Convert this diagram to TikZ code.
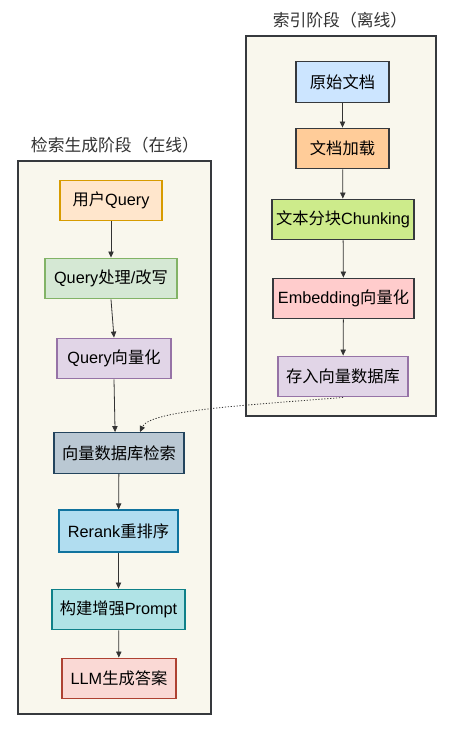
\documentclass[tikz,border=0pt]{standalone}
\usepackage{fontspec}
\setmainfont{Liberation Sans}
\newfontfamily\cjk{Noto Sans CJK SC}
\usetikzlibrary{arrows.meta,calc}
\definecolor{clfill}{HTML}{F9F7ED}
\definecolor{cldraw}{HTML}{36393D}
\definecolor{edgec}{HTML}{333333}
\begin{document}
\begin{tikzpicture}[x=0.75pt,y=-0.75pt,
  bw/.style={minimum width=#1*0.75pt},
  bh/.style={minimum height=#1*0.75pt},
  cluster/.style={draw=cldraw, fill=clfill, line width=0.9pt, inner sep=0pt},
  ctitle/.style={text=edgec, font=\fontsize{12.6}{14}\selectfont\cjk},
  box/.style={draw, line width=0.9pt, inner sep=0pt, minimum height=30.5pt, font=\fontsize{12.2}{14}\selectfont},
  flow/.style={draw=edgec, line width=0.6pt, -{Triangle[length=4.5pt,width=4pt]}},
  dotflow/.style={draw=edgec, line width=0.6pt, dash pattern=on 0.9pt off 1.3pt, -{Triangle[length=4.5pt,width=4pt]}}
]
\useasboundingbox (0,0) rectangle (452,732);

% clusters
\node[cluster, bw=190, bh=380] (rc) at (341,226) {};
\node[cluster, bw=193, bh=553] (lc) at (114.5,437.5) {};
\node[ctitle] (rt) at (340,20) {索引阶段（离线）};
\node[ctitle] (lt) at (115,145) {检索生成阶段（在线）};

% right nodes
\node[box, bw=93, fill={rgb,255:red,204;green,229;blue,255}, draw=cldraw] (n1) at (342.5,82) {\cjk 原始文档};
\node[box, bw=93, fill={rgb,255:red,255;green,204;blue,153}, draw=cldraw] (n2) at (342.5,148.5) {\cjk 文档加载};
\node[box, bw=142, fill={rgb,255:red,205;green,235;blue,139}, draw=cldraw] (n3) at (343,219.5) {{\cjk 文本分块}Chunking};
\node[box, bw=141, fill={rgb,255:red,255;green,204;blue,204}, draw=cldraw] (n4) at (343.5,298.5) {Embedding{\cjk 向量化}};
\node[box, bw=130, fill={rgb,255:red,225;green,213;blue,231}, draw={rgb,255:red,150;green,115;blue,166}] (n5) at (343,376.5) {\cjk 存入向量数据库};

% left nodes
\node[box, bw=102, fill={rgb,255:red,255;green,230;blue,204}, draw={rgb,255:red,215;green,155;blue,0}] (m1) at (111,200.5) {{\cjk 用户}Query};
\node[box, bw=132, fill={rgb,255:red,213;green,232;blue,212}, draw={rgb,255:red,130;green,179;blue,102}] (m2) at (111,278.5) {Query{\cjk 处理}/{\cjk 改写}};
\node[box, bw=114, fill={rgb,255:red,225;green,213;blue,231}, draw={rgb,255:red,150;green,115;blue,166}] (m3) at (114,358.5) {Query{\cjk 向量化}};
\node[box, bw=130, fill={rgb,255:red,186;green,200;blue,211}, draw={rgb,255:red,35;green,68;blue,93}] (m4) at (119,453) {\cjk 向量数据库检索};
\node[box, bw=119, bh=42, fill={rgb,255:red,177;green,221;blue,240}, draw={rgb,255:red,16;green,115;blue,158}] (m5) at (118.5,531) {Rerank{\cjk 重排序}};
\node[box, bw=133, fill={rgb,255:red,176;green,227;blue,230}, draw={rgb,255:red,14;green,128;blue,136}] (m6) at (118.5,609.5) {{\cjk 构建增强}Prompt};
\node[box, bw=114, fill={rgb,255:red,250;green,217;blue,213}, draw={rgb,255:red,174;green,65;blue,50}] (m7) at (119,678.5) {LLM{\cjk 生成答案}};

% right edges
\draw[flow] (n1) -- (n2);
\draw[flow] (n2) -- (n3);
\draw[flow] (n3) -- (n4);
\draw[flow] (n4) -- (n5);

% left edges
\draw[flow] (m1) -- (m2);
\draw[flow] (m2.south) -- (m3.north);
\draw[flow] (m3.south) -- ($(m4.north west)!0.47!(m4.north east)$);
\draw[flow] (m4) -- (m5);
\draw[flow] (m5) -- (m6);
\draw[flow] (m6) -- (m7);

% cross edge
\coordinate (dend) at ($(m4.north west)!0.66!(m4.north east)$);
\draw[dotflow] (n5.south) .. controls (250,405) and (150,410) .. (dend);
\end{tikzpicture}
\end{document}
